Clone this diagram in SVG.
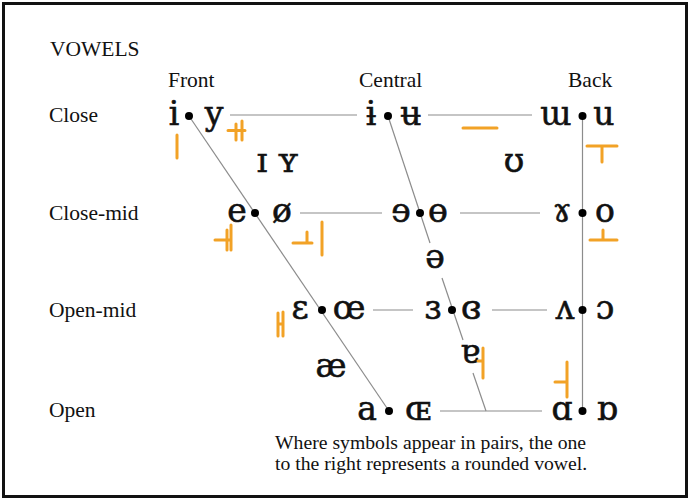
<svg xmlns="http://www.w3.org/2000/svg" width="690" height="501" viewBox="0 0 690 501">
<style>
.lbl{font-family:"Liberation Serif","Times New Roman",serif;font-size:21.5px;fill:#111}
.note{font-family:"Liberation Serif","Times New Roman",serif;font-size:19.7px;fill:#111}
.v{font-family:"DejaVu Serif","Liberation Serif",serif;font-size:33px;fill:#111;stroke:#111;stroke-width:0.6;text-anchor:middle}
.ln{stroke:#8c8c8c;stroke-width:1.2;fill:none}
.mk{stroke:#f2a226;stroke-width:3;fill:none;stroke-linecap:round}
</style>
<rect x="3.5" y="3.5" width="683" height="493" fill="#fff" stroke="#111" stroke-width="3"/>
<g id="labels">
<text class="lbl" x="50" y="56">VOWELS</text>
<text class="lbl" x="168" y="87">Front</text>
<text class="lbl" x="359" y="87">Central</text>
<text class="lbl" x="568" y="87">Back</text>
<text class="lbl" x="49" y="122">Close</text>
<text class="lbl" x="49" y="220">Close-mid</text>
<text class="lbl" x="49" y="317">Open-mid</text>
<text class="lbl" x="49" y="417">Open</text>
</g>
<g id="connectors">
<line class="ln" x1="189" y1="116" x2="389" y2="411"/>
<line class="ln" x1="582.5" y1="116" x2="582.5" y2="411"/>
<line class="ln" x1="388" y1="116" x2="430" y2="243"/>
<line class="ln" x1="442" y1="278" x2="463" y2="340"/>
<line class="ln" x1="473" y1="373" x2="486" y2="411"/>
<line class="ln" x1="230" y1="115" x2="357" y2="115"/>
<line class="ln" x1="428" y1="115" x2="532" y2="115"/>
<line class="ln" x1="300" y1="213" x2="382" y2="213"/>
<line class="ln" x1="460" y1="213" x2="540" y2="213"/>
<line class="ln" x1="373" y1="310" x2="413" y2="310"/>
<line class="ln" x1="492" y1="310" x2="547" y2="310"/>
<line class="ln" x1="440" y1="411" x2="542" y2="411"/>
</g>
<g id="close-front"><text class="v" x="174" y="125">i</text><circle cx="189" cy="116" r="4"/><text class="v" x="214" y="125">y</text></g>
<g id="close-central"><text class="v" x="371" y="125">ɨ</text><circle cx="388" cy="116" r="4"/><text class="v" x="411" y="125">ʉ</text></g>
<g id="close-back"><text class="v" x="556" y="125">ɯ</text><circle cx="582.5" cy="116" r="4"/><text class="v" x="604" y="125">u</text></g>
<g id="near-close-front"><text class="v" x="262" y="172">ɪ</text><text class="v" x="288" y="172">ʏ</text></g>
<g id="near-close-back"><text class="v" x="514" y="172">ʊ</text></g>
<g id="closemid-front"><text class="v" x="237" y="222">e</text><circle cx="255" cy="213" r="4"/><text class="v" x="282" y="222">ø</text></g>
<g id="closemid-central"><text class="v" x="401" y="222">ɘ</text><circle cx="420" cy="213" r="4"/><text class="v" x="438" y="222">ɵ</text></g>
<g id="closemid-back"><text class="v" x="562" y="222">ɤ</text><circle cx="582.5" cy="213" r="4"/><text class="v" x="605" y="222">o</text></g>
<g id="mid-central"><text class="v" x="435" y="268">ə</text></g>
<g id="openmid-front"><text class="v" x="300" y="319">ɛ</text><circle cx="322" cy="310" r="4"/><text class="v" x="349" y="319">œ</text></g>
<g id="openmid-central"><text class="v" x="433" y="319">ɜ</text><circle cx="452" cy="310" r="4"/><text class="v" x="471" y="319">ɞ</text></g>
<g id="openmid-back"><text class="v" x="565" y="319">ʌ</text><circle cx="582.5" cy="310" r="4"/><text class="v" x="605" y="319">ɔ</text></g>
<g id="near-open-front"><text class="v" x="331" y="377">æ</text></g>
<g id="near-open-central"><text class="v" x="470" y="363">ɐ</text></g>
<g id="open-front"><text class="v" x="367" y="420">a</text><circle cx="389" cy="411" r="4"/><text class="v" x="418" y="420">ɶ</text></g>
<g id="open-back"><text class="v" x="562" y="420">ɑ</text><circle cx="582.5" cy="411" r="4"/><text class="v" x="607" y="420">ɒ</text></g>
<g id="note">
<text class="note" x="275" y="449">Where symbols appear in pairs, the one</text>
<text class="note" x="275" y="470">to the right represents a rounded vowel.</text>
</g>
<g id="annotations">
<path class="mk" d="M177 135V158"/>
<path class="mk" d="M228 130.5H245M236 124V140M242 121V140"/>
<path class="mk" d="M215 240H230M227 230V250M231 225V250"/>
<path class="mk" d="M293 243H312M307 232V243M322 222V255"/>
<path class="mk" d="M463 128H497"/>
<path class="mk" d="M587 146H617M602 146V162"/>
<path class="mk" d="M590 240H617M603 230V240"/>
<path class="mk" d="M278 313V336M283 312V336M278 324H283"/>
<path class="mk" d="M483 348V378M478 361H483"/>
<path class="mk" d="M567 362V397M555 382H567"/>
</g>
</svg>
